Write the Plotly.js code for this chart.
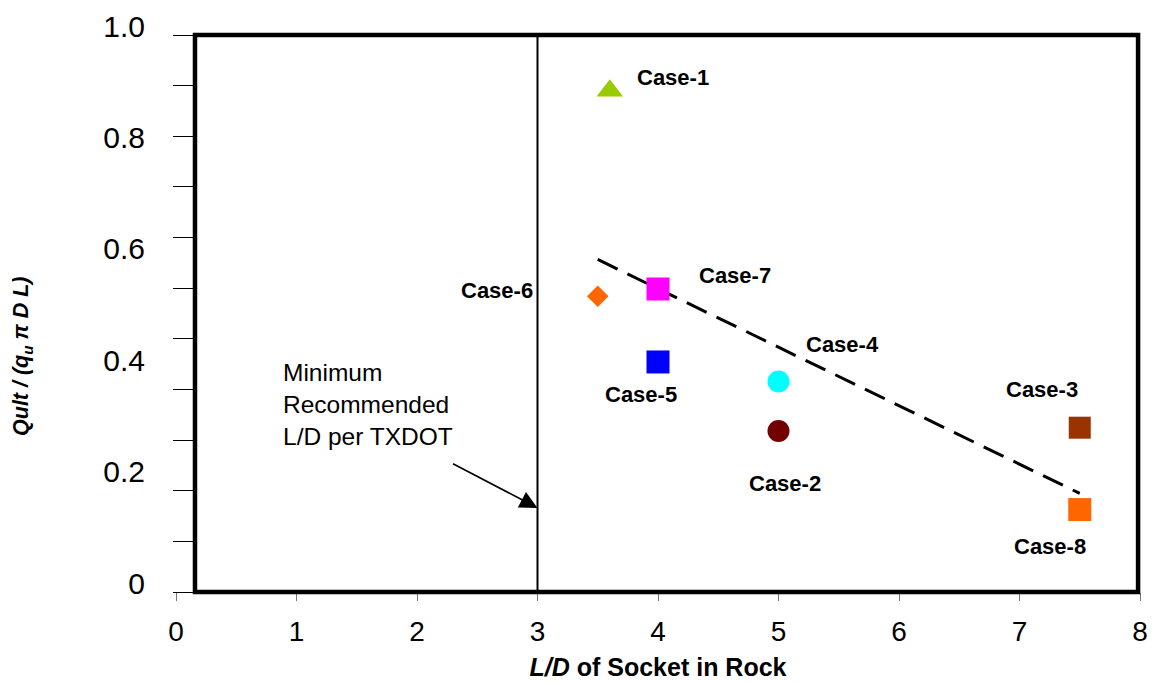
<!DOCTYPE html>
<html>
<head>
<meta charset="utf-8">
<script src="https://cdn.plot.ly/plotly-3.0.1.min.js"></script>
<style>
  html, body { margin: 0; padding: 0; background: #ffffff; }
  #chart { width: 1153px; height: 682px; }
</style>
</head>
<body>
<div id="chart"></div>
<script>
// ---- data ----
const caseNames     = ['Case-1', 'Case-2', 'Case-3', 'Case-4', 'Case-5', 'Case-6', 'Case-7', 'Case-8'];
const ldRatio       = [3.6, 5.0, 7.5, 5.0, 4.0, 3.5, 4.0, 7.5];          // L/D of socket in rock
const capacityRatio = [0.900, 0.289, 0.295, 0.378, 0.413, 0.531, 0.544, 0.148]; // Qult / (qu pi D L)

const trendLD       = [3.5, 7.5];
const trendCapacity = [0.597, 0.177];

const minRecommendedLD = 3;       // TXDOT minimum recommended L/D
const arrowTarget      = 0.151;   // where the annotation arrow meets the L/D = 3 line

const xTickVals   = [0, 1, 2, 3, 4, 5, 6, 7, 8];
const xTickText   = ['0', '1', '2', '3', '4', '5', '6', '7', '8'];
const yLabelVals  = [0, 0.2, 0.4, 0.6, 0.8, 1.0];
const yLabelText  = ['0', '0.2', '0.4', '0.6', '0.8', '1.0'];
const yTickMarkVals = [0, 1/11, 2/11, 3/11, 4/11, 5/11, 6/11, 7/11, 8/11, 9/11, 10/11, 1];

// ---- styles ----
const markerSymbols = ['triangle-up', 'circle', 'square', 'circle', 'square', 'diamond', 'square', 'square'];
const markerColors  = ['#99CC00', '#720000', '#993300', '#00FFFF', '#0000FF', '#FF6600', '#FF00FF', '#FF6600'];
const markerSizes   = [23, 22, 22, 22, 23, 16.5, 23, 23];
// label offsets from each point, in pixels (x right, y up)
const labelShiftX = [63, 6, -38, 64, -17, -101, 77, -30];
const labelShiftY = [13, -52, 38, 37, -33, 6, 13, -37];

const FONT = 'Arial, "Liberation Sans", Helvetica, sans-serif';
const axisPos = 0.0197;

const traces = [
  {
    x: trendLD, y: trendCapacity,
    mode: 'lines', type: 'scatter',
    line: { color: '#000000', width: 3, dash: '22px,11px' },
    hoverinfo: 'skip', showlegend: false
  },
  {
    x: ldRatio, y: capacityRatio, text: caseNames,
    mode: 'markers', type: 'scatter',
    marker: { symbol: markerSymbols, color: markerColors, size: markerSizes, opacity: 1, line: { width: 0 } },
    hovertemplate: '%{text}<br>L/D = %{x}<br>ratio = %{y}<extra></extra>',
    showlegend: false
  },
  { x: [null], y: [null], yaxis: 'y2', mode: 'markers', showlegend: false, hoverinfo: 'skip' }
];

const annotations = caseNames.map((name, i) => ({
  x: ldRatio[i], y: capacityRatio[i], xref: 'x', yref: 'y',
  text: '<b>' + name + '</b>', showarrow: false,
  xshift: labelShiftX[i], yshift: labelShiftY[i],
  font: { family: FONT, size: 22, color: '#000000' }
}));

annotations.push({
  x: minRecommendedLD, y: arrowTarget, xref: 'x', yref: 'y',
  text: '', showarrow: true, ax: -86, ay: -45,
  arrowhead: 2, arrowsize: 2.2, arrowwidth: 1.6, arrowcolor: '#000000'
});

annotations.push({
  x: 0.875, y: 0.337, xref: 'x', yref: 'y',
  xanchor: 'left', yanchor: 'middle', align: 'left', showarrow: false,
  text: 'Minimum<br>Recommended<br>L/D per TXDOT',
  font: { family: FONT, size: 24.5, color: '#000000' }
});

annotations.push({
  xref: 'paper', yref: 'paper', x: -0.1587, y: 0.422,
  xanchor: 'center', yanchor: 'middle', textangle: -90, showarrow: false,
  text: '<b><i>Qult / (q<sub>u</sub> π D L)</i></b>',
  font: { family: FONT, size: 21.5, color: '#000000' }
});

const layout = {
  width: 1153, height: 682,
  margin: { l: 176, r: 13, t: 35, b: 90, pad: 0 },
  paper_bgcolor: '#ffffff', plot_bgcolor: '#ffffff',
  showlegend: false,
  font: { family: FONT, color: '#000000' },
  xaxis: {
    range: [0, 8], tickmode: 'array', tickvals: xTickVals, ticktext: xTickText,
    ticks: 'outside', ticklen: 8, tickwidth: 1, tickcolor: '#777777',
    showline: false, showgrid: false, zeroline: false,
    tickfont: { family: FONT, size: 28, color: '#000000' },
    ticklabelstandoff: 6,
    automargin: false,
    title: { text: '<b><i>L/D</i> of Socket in Rock</b>', font: { family: FONT, size: 25, color: '#000000' }, standoff: 12 }
  },
  yaxis: {
    range: [0, 1], anchor: 'free', position: axisPos,
    tickmode: 'array', tickvals: yTickMarkVals, ticktext: yTickMarkVals.map(() => ''),
    ticks: 'outside', ticklen: 22, tickwidth: 1, tickcolor: '#000000',
    showline: false, showgrid: false, zeroline: false, automargin: false
  },
  yaxis2: {
    range: [0, 1], overlaying: 'y', anchor: 'free', position: axisPos, side: 'left',
    tickmode: 'array', tickvals: yLabelVals, ticktext: yLabelText,
    ticks: '', showline: false, showgrid: false, zeroline: false, automargin: false,
    tickfont: { family: FONT, size: 30, color: '#000000' },
    ticklabelstandoff: 50, ticklabelshift: -9
  },
  shapes: [
    { type: 'line', xref: 'x', yref: 'paper', x0: minRecommendedLD, x1: minRecommendedLD, y0: 0, y1: 1,
      line: { color: '#000000', width: 2 } },
    { type: 'rect', xref: 'paper', yref: 'paper', x0: axisPos, x1: 0.998, y0: 0, y1: 1,
      line: { color: '#000000', width: 4.5 }, fillcolor: 'rgba(0,0,0,0)', layer: 'above' }
  ],
  annotations: annotations
};

Plotly.newPlot('chart', traces, layout, { displayModeBar: false, staticPlot: true });
</script>
</body>
</html>
